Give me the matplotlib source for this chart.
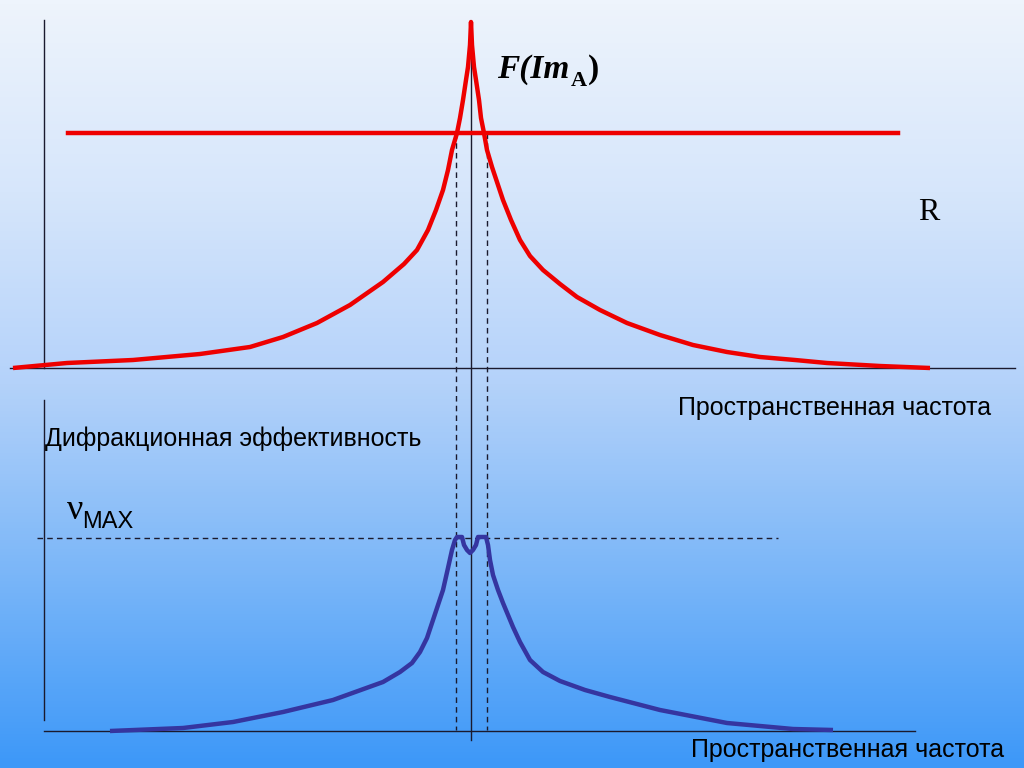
import numpy as np
import matplotlib.pyplot as plt
from matplotlib.colors import LinearSegmentedColormap

# red curve F(Im_A) (top panel): x = spatial frequency position, y = height (screen units)
red_x = [13, 67, 133, 200, 250, 283, 317, 350, 383, 404, 417, 428, 436, 443,
         448, 452, 457, 460, 463, 466, 468, 470, 471,
         472, 474, 476, 479, 481, 484, 487, 492, 497, 503, 511, 520, 530, 543,
         560, 577, 600, 627, 660, 693, 727, 760, 795, 827, 880, 930]
red_y = [368, 363, 360, 354, 347, 337, 323, 305, 282, 264, 250, 230, 210, 190,
         170, 150, 133, 118, 100, 80, 67, 45, 22,
         45, 67, 80, 100, 118, 133, 150, 167, 182, 200, 220, 240, 256, 270,
         284, 297, 310, 323, 335, 345, 352, 357, 360, 363, 366, 368]

# blue curve: diffraction efficiency (bottom panel)
blue_x = [110, 183, 233, 283, 333, 383, 400, 412, 420, 427, 433, 438, 443,
          448, 452, 455, 457, 462, 464, 467, 470, 473, 476, 478, 486,
          488, 490, 493, 498, 503, 508, 513, 520, 530, 543, 560, 585, 610,
          660, 727, 793, 833]
blue_y = [731, 728, 722, 712, 700, 682, 672, 663, 652, 638, 620, 605, 590,
          568, 550, 540, 537, 537, 545, 550, 553, 550, 545, 537, 537,
          545, 560, 575, 590, 603, 615, 627, 642, 660, 672, 681, 690, 697,
          710, 723, 729, 730]

r_level = 133        # red horizontal line R
nu_max = 538         # dashed level of max efficiency
center_x = 471
cross_x = [456, 487]

fig = plt.figure(figsize=(10.24, 7.68), dpi=100)
ax = fig.add_axes([0, 0, 1, 1])
ax.set_xlim(0, 1024)
ax.set_ylim(768, 0)
ax.axis('off')

# background gradient
cmap = LinearSegmentedColormap.from_list('bg', ['#eef4fc', '#d6e6fb', '#b4d2fa', '#7ab6f8', '#3d98f8'])
grad = np.linspace(0, 1, 256).reshape(-1, 1)
ax.imshow(grad, cmap=cmap, extent=[0, 1024, 768, 0], aspect='auto', zorder=0)

axis_col = '#1a1a2e'
# top panel axes
ax.plot([44, 44], [20, 368], color=axis_col, lw=1)
ax.plot([10, 1015], [368, 368], color=axis_col, lw=1)
# bottom panel axes
ax.plot([44, 44], [400, 720], color=axis_col, lw=1)
ax.plot([44, 915], [731, 731], color=axis_col, lw=1)

# center vertical line and dashed crossings
ax.plot([center_x, center_x], [30, 740], color=axis_col, lw=1)
for cx in cross_x:
    ax.plot([cx, cx], [r_level, 730], color=axis_col, lw=1, ls=(0, (4, 3)))
ax.plot([37, 778], [nu_max, nu_max], color=axis_col, lw=1, ls=(0, (4, 3)))

# curves
ax.plot([68, 898], [r_level, r_level], color='#ee0000', lw=3.2, zorder=3)
ax.plot(red_x, red_y, color='#ee0000', lw=3.2, zorder=3,
        solid_joinstyle='round', solid_capstyle='butt')
ax.plot(blue_x, blue_y, color='#3535a0', lw=3.2, zorder=3,
        solid_joinstyle='round', solid_capstyle='butt')

# labels
serif = 'Liberation Serif'
sans = 'Liberation Sans'
t1 = ax.text(497, 78, 'F(Im', fontsize=24, fontfamily=serif, fontweight='bold',
             fontstyle='italic', color='black')
fig.canvas.draw()
inv = ax.transData.inverted()
x_end = inv.transform(t1.get_window_extent().get_points())[1][0]
t2 = ax.text(x_end + 1, 86, 'A', fontsize=16, fontfamily=serif, fontweight='bold', color='black')
fig.canvas.draw()
x_end2 = inv.transform(t2.get_window_extent().get_points())[1][0]
ax.text(x_end2 + 1, 78, ')', fontsize=24, fontfamily=serif, fontweight='bold', color='black')

ax.text(918, 220, 'R', fontsize=23, fontfamily=serif, color='black')

ax.text(678, 415, 'Пространственная частота', fontsize=18, fontfamily=sans, color='black')
ax.text(691, 757, 'Пространственная частота', fontsize=18, fontfamily=sans, color='black')
ax.text(45, 446, 'Дифракционная эффективность', fontsize=18, fontfamily=sans, color='black')
ax.text(67, 519, 'ν', fontsize=26, fontfamily=serif, color='black')
ax.text(82, 528, 'MAX', fontsize=17, fontfamily=sans, color='black')

fig.savefig('out.png', dpi=100)
